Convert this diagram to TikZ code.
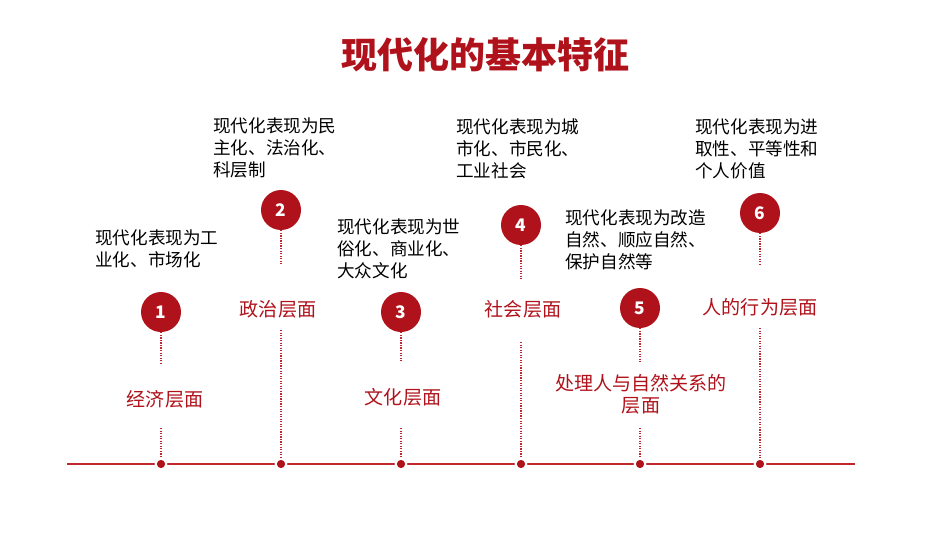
\documentclass[tikz,border=0pt]{standalone}
\usepackage{fontspec}
\setmainfont{Noto Sans CJK SC}
\definecolor{dred}{HTML}{B0121B}
\definecolor{lred}{HTML}{C0262D}
\begin{document}
\begin{tikzpicture}[x=0.75pt,y=-0.75pt,
  num/.style={circle,fill=dred,text=white,minimum size=30pt,inner sep=0,font=\fontsize{13}{13}\selectfont\bfseries},
  lab/.style={text=dred,font=\fontsize{14.3}{16.5}\selectfont,align=center},
  desc/.style={anchor=north west,align=left,font=\fontsize{13.2}{16.5}\selectfont,inner sep=0},
  dot/.style={circle,fill=dred,draw=white,line width=1.5pt,minimum size=8pt,inner sep=0},
  dl/.style={lred,densely dotted,line width=0.9pt}]
\useasboundingbox (0,0) rectangle (950,535);
\node[font=\fontsize{27}{27}\selectfont\bfseries,text=dred] (title) at (485,55) {现代化的基本特征};
\draw[lred,line width=1.6pt] (67,464) -- (855,464);
\foreach \i/\x in {1/161,2/281,3/401,4/521,5/640,6/760}{\node[dot] (d\i) at (\x,464) {};}
% 1
\node[num] (c1) at (161,312) {1};
\node[lab] (l1) at (165,399) {经济层面};
\coordinate (e1) at (161,364); \coordinate (s1) at (161,428);
\draw[dl] (c1) -- (e1); \draw[dl] (s1) -- (d1);
\node[desc] (t1) at (95,229) {现代化表现为工\\业化、市场化};
% 2
\node[num] (c2) at (281,210) {2};
\coordinate (e2) at (281,265); \coordinate (s2) at (281,330);
\node[lab] (l2) at (278,309) {政治层面};
\draw[dl] (c2) -- (e2); \draw[dl] (s2) -- (d2);
\node[desc] (t2) at (213,117) {现代化表现为民\\主化、法治化、\\科层制};
% 3
\node[num] (c3) at (401,312) {3};
\node[lab] (l3) at (403,397) {文化层面};
\coordinate (e3) at (401,362); \coordinate (s3) at (401,428);
\draw[dl] (c3) -- (e3); \draw[dl] (s3) -- (d3);
\node[desc] (t3) at (337,218) {现代化表现为世\\俗化、商业化、\\大众文化};
% 4
\node[num] (c4) at (521,225) {4};
\node[lab] (l4) at (523,309) {社会层面};
\coordinate (e4) at (521,280); \coordinate (s4) at (521,342);
\draw[dl] (c4) -- (e4); \draw[dl] (s4) -- (d4);
\node[desc] (t4) at (456,118) {现代化表现为城\\市化、市民化、\\工业社会};
% 5
\node[num] (c5) at (640,308) {5};
\node[lab] (l5) at (641,394) {处理人与自然关系的\\层面};
\coordinate (e5) at (640,362); \coordinate (s5) at (640,428);
\draw[dl] (c5) -- (e5); \draw[dl] (s5) -- (d5);
\node[desc] (t5) at (565,209) {现代化表现为改造\\自然、顺应自然、\\保护自然等};
% 6
\node[num] (c6) at (760,213) {6};
\node[lab] (l6) at (760,307) {人的行为层面};
\coordinate (e6) at (760,265); \coordinate (s6) at (760,328);
\draw[dl] (c6) -- (e6); \draw[dl] (s6) -- (d6);
\node[desc] (t6) at (695,118) {现代化表现为进\\取性、平等性和\\个人价值};
\end{tikzpicture}
\end{document}
